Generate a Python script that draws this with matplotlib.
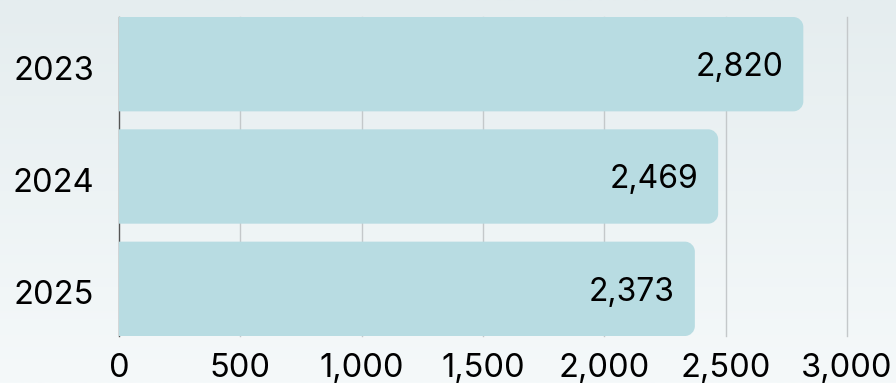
import matplotlib
matplotlib.use("Agg")
import matplotlib.pyplot as plt
import numpy as np
from matplotlib.path import Path
from matplotlib.patches import PathPatch
from matplotlib.colors import LinearSegmentedColormap

years = ["2023", "2024", "2025"]
values = [2820, 2469, 2373]
xticks = [0, 500, 1000, 1500, 2000, 2500, 3000]

plt.rcParams['font.family'] = ['Inter', 'DejaVu Sans']

W, H, DPI = 896, 383, 100
fig = plt.figure(figsize=(W / DPI, H / DPI), dpi=DPI)

# background gradient
bg = fig.add_axes([0, 0, 1, 1], zorder=-10)
grad = np.linspace(0, 1, 256).reshape(-1, 1)
cmap = LinearSegmentedColormap.from_list("bg", ["#e5edef", "#f5f9fa"])
bg.imshow(grad, aspect="auto", cmap=cmap, extent=[0, 1, 0, 1])
bg.axis("off")

left, right = 119 / W, 847 / W
bottom, top = 1 - 336 / H, 1 - 17 / H
ax = fig.add_axes([left, bottom, right - left, top - bottom])
ax.set_facecolor("none")

bar_h = 0.84
ypos = np.arange(len(years))
bars = ax.barh(ypos, values, height=bar_h, color="none", edgecolor="none")
ax.set_xlim(0, 3000)
ax.set_ylim(len(years) - 1 + 0.42, -0.42)

# rounded right corners
ax_w_px = (right - left) * W
ax_h_px = (top - bottom) * H
r_px = 10
rx = r_px * 3000 / ax_w_px
ry = r_px * (len(years) - 1 + 0.84) / ax_h_px
k = 0.5523
for b in bars:
    x0, y0 = b.get_x(), b.get_y()
    x1, y1 = x0 + b.get_width(), y0 + b.get_height()
    verts = [
        (x0, y0), (x1 - rx, y0),
        (x1 - rx + k * rx, y0), (x1, y0 + ry - k * ry), (x1, y0 + ry),
        (x1, y1 - ry),
        (x1, y1 - ry + k * ry), (x1 - rx + k * rx, y1), (x1 - rx, y1),
        (x0, y1), (x0, y0),
    ]
    codes = [Path.MOVETO, Path.LINETO,
             Path.CURVE4, Path.CURVE4, Path.CURVE4,
             Path.LINETO,
             Path.CURVE4, Path.CURVE4, Path.CURVE4,
             Path.LINETO, Path.CLOSEPOLY]
    ax.add_patch(PathPatch(Path(verts, codes), facecolor="#b8dce2",
                           edgecolor="none", zorder=3))

for yv, v in zip(ypos, values):
    ax.text(v - 20 * 3000 / ax_w_px, yv + 0.03, f"{v:,}", ha="right", va="center",
            fontsize=23, color="#000000", zorder=4)

ax.set_xticks(xticks)
ax.set_xticklabels([f"{t:,}" for t in xticks])
ax.set_yticks(ypos + 0.03)
ax.set_yticklabels(years)
ax.tick_params(axis="both", length=0, labelsize=23.5, colors="#000000")
ax.tick_params(axis="y", pad=18)
ax.tick_params(axis="x", pad=12)
for t in xticks:
    ax.axvline(t, color="#555555" if t == 0 else "#c4c8ca", lw=1, zorder=1,
               clip_on=False)
for s in ax.spines.values():
    s.set_visible(False)

fig.savefig("out.png", dpi=DPI)
